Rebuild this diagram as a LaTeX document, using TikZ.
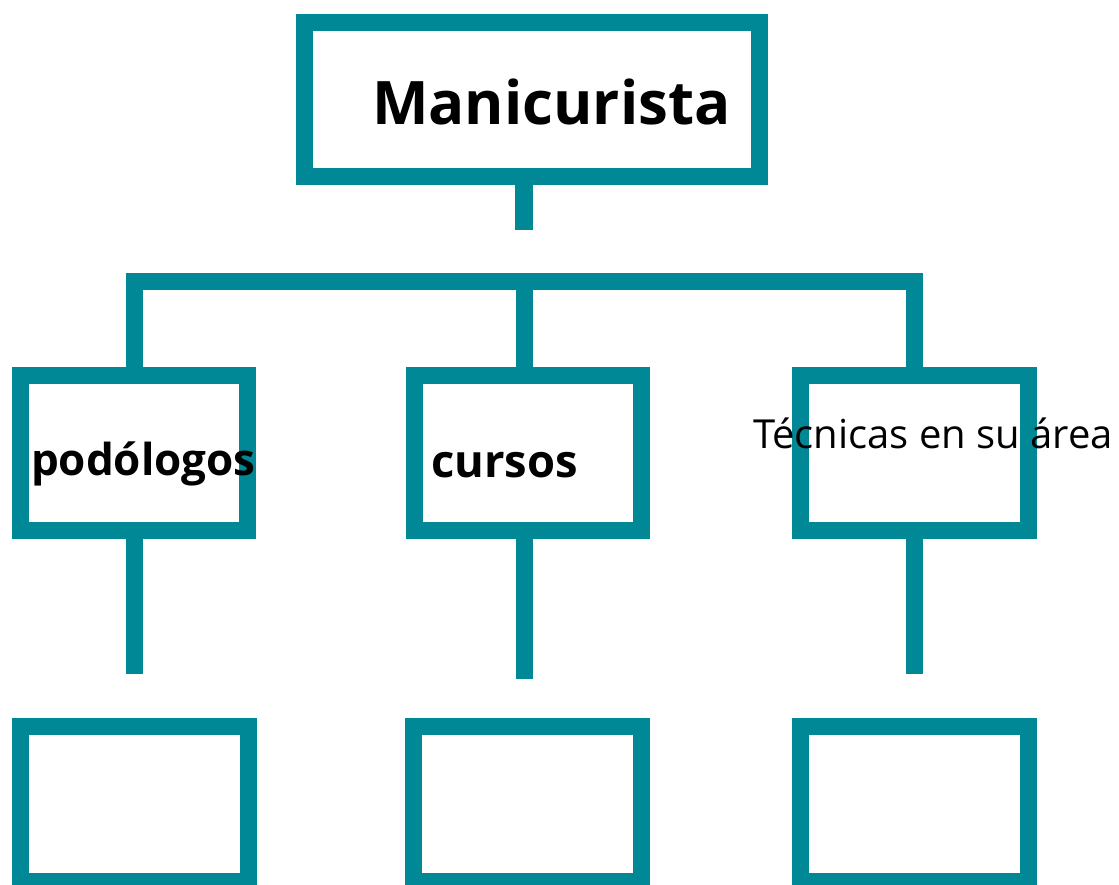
\documentclass[tikz,border=0pt]{standalone}
\usepackage{fontspec}
\setmainfont{Open Sans}
\definecolor{teal1}{RGB}{0,136,150}
\begin{document}
\begin{tikzpicture}[x=1pt,y=-1pt,
  box/.style={draw=teal1,line width=17pt,rectangle,inner sep=0pt,outer sep=0pt,minimum width=227pt,minimum height=155pt},
  conn/.style={draw=teal1,line width=17.5pt,line cap=butt,line join=miter},
  lbl/.style={inner sep=0pt,outer sep=0pt,anchor=base west,text=black}]
\useasboundingbox (0,0) rectangle (1119,884);
\clip (0,0) rectangle (1119,884);
% boxes
\node[box,minimum width=455pt,minimum height=154.5pt] (top) at (532,99.25) {};
\node[box] (lb) at (134.3,453) {};
\node[box] (mb) at (527.8,453) {};
\node[box,minimum width=228pt] (rb) at (914.5,453) {};
\node[box,minimum width=228pt] (lbb) at (134.2,804.2) {};
\node[box,minimum width=228pt] (mbb) at (527.5,804.2) {};
\node[box,minimum width=228pt] (rbb) at (914.5,804.2) {};
% coordinates
\coordinate (stemend) at (524,230);
\coordinate (bar) at (0,281.7);
\coordinate (lend) at (134.5,674);
\coordinate (mend) at (524.5,679);
\coordinate (rend) at (914.5,674);
% connectors
\draw[conn] (top.south -| stemend) -- (stemend);
\draw[conn] (lb.north -| lend) -- (bar -| lend) -- (bar -| rend) -- (rb.north -| rend);
\draw[conn] (bar -| mend) -- (mb.north -| mend);
\draw[conn] (lb.south -| lend) -- (lend);
\draw[conn] (mb.south -| mend) -- (mend);
\draw[conn] (rb.south -| rend) -- (rend);
% labels
\node[lbl,font=\bfseries\fontsize{60}{66}\selectfont] (tm) at (372,124) {Manicurista};
\node[lbl,font=\bfseries\fontsize{44}{50}\selectfont] (tl) at (31,475.5) {podólogos};
\node[lbl,font=\bfseries\fontsize{45.3}{50}\selectfont] (tc) at (431,477) {cursos};
\node[lbl,font=\fontsize{40}{46}\selectfont] (tr) at (753,448) {Técnicas en su área};
\end{tikzpicture}
\end{document}
